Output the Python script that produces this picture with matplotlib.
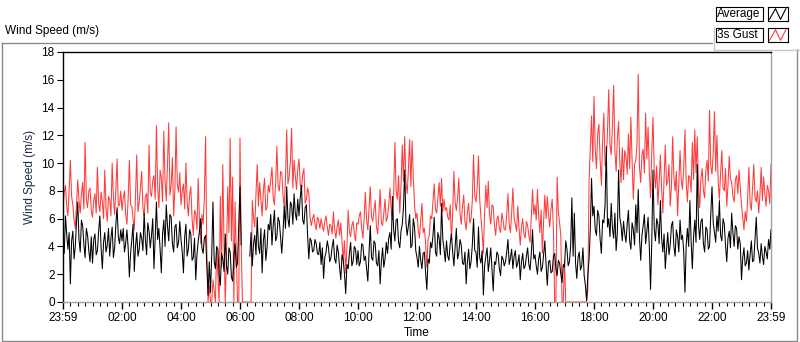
import numpy as np
import matplotlib
matplotlib.use('Agg')
import matplotlib.pyplot as plt
from matplotlib.ticker import MultipleLocator
from matplotlib.patches import Rectangle
from matplotlib.lines import Line2D

nan = np.nan

# one value every 2.5 minutes, one line per half hour (m/s)
avg = [
    4.6, 3.5, 6.2, 4.9, 3.8, 5.0, 1.3, 4.4, 5.1, 3.1, 4.0, 5.8,
    7.2, 4.5, 3.6, 5.9, 5.5, 4.1, 3.2, 5.3, 4.8, 3.7, 2.9, 4.7,
    2.8, 4.5, 4.9, 3.4, 3.7, 5.1, 6.2, 3.9, 2.4, 4.3, 5.0, 3.6,
    4.1, 5.3, 3.3, 4.6, 5.4, 3.2, 3.9, 5.6, 6.8, 4.7, 4.2, 5.2,
    4.4, 5.3, 3.6, 4.2, 5.2, 3.9, 1.8, 3.5, 4.5, 5.6, 2.2, 4.0,
    5.0, 3.3, 3.8, 5.0, 4.6, 3.7, 6.4, 4.5, 3.4, 5.7, 5.1, 3.9,
    4.8, 6.0, 2.4, 4.6, 7.2, 4.5, 5.3, 3.8, 2.1, 4.9, 5.9, 4.0,
    7.0, 5.5, 4.4, 6.3, 6.1, 4.2, 3.6, 5.4, 5.6, 3.9, 4.3, 5.8,
    4.5, 3.6, 2.1, 4.7, 5.6, 3.3, 3.8, 5.2, 4.9, 3.0, 3.2, 4.6,
    1.6, 3.4, 4.4, 5.1, 6.0, 3.9, 3.5, 4.6, 4.8, 2.7, 0.5, 2.9,
    0.7, 3.4, 7.2, 2.9, 2.4, 4.0, 3.8, 1.9, 1.2, 3.5, 3.1, 2.2,
    4.9, 2.6, 2.0, 3.9, 3.6, 1.8, 1.5, 3.3, 4.2, 2.5, 2.8, 5.6,
    8.3, 4.1, nan, nan, nan, nan, nan, nan, 3.3, 5.0, 2.6, 4.2,
    4.8, 3.4, 6.1, 4.0, 3.5, 5.3, 2.1, 4.4, 5.2, 3.0, 3.9, 5.6,
    5.2, 6.3, 4.1, 5.5, 6.6, 4.4, 4.7, 6.1, 5.8, 4.6, 3.5, 5.0,
    6.9, 5.3, 8.3, 6.0, 5.4, 7.2, 7.0, 5.6, 7.8, 6.4, 5.9, 7.4,
    6.2, 7.5, 8.4, 5.9, 5.6, 6.8, 7.0, 4.8, 3.1, 4.6, 4.4, 3.6,
    3.7, 4.5, 4.2, 3.5, 3.4, 4.3, 2.7, 3.9, 1.7, 3.2, 3.6, 4.4,
    3.9, 2.9, 3.2, 4.0, 4.5, 3.1, 2.8, 4.1, 3.6, 2.5, 1.6, 3.4,
    3.0, 2.0, 0.6, 2.7, 2.4, 3.5, 4.3, 2.6, 2.9, 4.0, 3.8, 2.7,
    3.7, 2.6, 2.9, 4.2, 4.1, 3.0, 3.3, 2.4, 1.5, 3.6, 5.5, 3.2,
    3.0, 4.4, 4.2, 2.8, 2.6, 3.7, 1.3, 2.9, 3.9, 2.5, 3.1, 4.3,
    3.5, 4.6, 5.0, 3.8, 7.6, 5.2, 4.4, 5.9, 6.0, 4.3, 3.9, 5.1,
    5.6, 6.8, 9.5, 5.7, 4.8, 5.5, 6.3, 3.9, 4.1, 6.0, 5.4, 3.7,
    3.2, 2.5, 4.0, 3.0, 2.4, 3.5, 3.6, 2.1, 0.9, 3.1, 2.8, 4.3,
    3.9, 4.8, 6.1, 3.6, 3.3, 5.0, 4.6, 3.4, 7.1, 4.5, 3.8, 2.9,
    4.4, 3.3, 3.0, 4.2, 4.9, 3.6, 2.6, 4.0, 5.3, 3.1, 3.5, 4.5,
    4.1, 2.8, 2.7, 3.6, 1.3, 2.9, 3.8, 2.4, 2.9, 4.1, 6.0, 3.7,
    3.6, 2.5, 5.4, 3.2, 2.8, 3.7, 0.5, 2.6, 3.3, 3.9, 2.2, 3.0,
    3.9, 2.3, 0.8, 2.9, 2.7, 3.6, 3.4, 2.4, 1.9, 3.3, 3.1, 2.6,
    2.9, 3.6, 4.5, 2.7, 3.2, 3.8, 2.4, 3.3, 3.7, 2.5, 2.8, 3.4,
    1.6, 2.9, 3.5, 2.4, 2.6, 3.3, 3.9, 2.7, 2.3, 3.5, 5.2, 3.1,
    3.4, 2.6, 2.0, 3.1, 3.6, 2.2, 2.5, 3.4, 4.4, 2.7, 1.2, 2.9,
    3.0, 2.1, 2.2, 3.3, 3.5, 2.4, 1.9, 3.0, 2.8, 2.0, 1.4, 2.7,
    2.5, 4.4, 3.8, 2.6, 2.9, 4.0, 7.5, 3.3, 6.4, 2.8, 1.7, 3.2,
    3.6, 2.3, 2.6, 3.9, 1.9, 1.2, 0.1, 2.0, 3.1, 5.3, 8.9, 6.2,
    6.9, 5.2, 4.8, 6.6, 6.2, 4.5, 3.5, 5.9, 5.7, 7.0, 11.2, 5.4,
    6.0, 4.7, 7.1, 5.3, 4.6, 6.4, 3.7, 5.0, 9.5, 6.1, 5.5, 4.4,
    5.8, 4.9, 4.3, 5.6, 6.6, 4.4, 3.8, 5.7, 5.2, 4.1, 7.0, 5.0,
    8.1, 4.6, 3.0, 4.8, 5.5, 6.3, 4.2, 5.1, 6.1, 4.0, 0.9, 4.3,
    9.5, 5.3, 4.4, 6.0, 5.6, 4.2, 7.3, 4.6, 3.6, 4.9, 2.4, 3.8,
    5.0, 3.4, 4.1, 5.5, 5.8, 4.0, 3.3, 5.2, 4.7, 3.6, 5.9, 4.5,
    4.8, 3.6, 0.7, 4.1, 5.3, 4.0, 7.3, 4.4, 2.4, 4.7, 5.9, 4.3,
    9.9, 5.6, 4.5, 5.8, 6.0, 4.2, 3.6, 5.4, 5.2, 3.8, 4.0, 6.3,
    8.3, 5.7, 5.0, 4.3, 6.2, 5.1, 7.3, 4.8, 4.4, 6.0, 5.6, 4.1,
    2.9, 4.6, 5.1, 3.9, 6.4, 5.0, 4.0, 5.5, 5.3, 3.8, 4.7, 4.2,
    1.6, 3.2, 3.9, 2.6, 2.8, 3.7, 2.3, 3.4, 4.4, 2.9, 3.0, 4.6,
    6.1, 3.9, 3.5, 2.8, 4.2, 3.3, 2.7, 4.0, 3.6, 3.1, 4.5, 3.8,
    5.2,
]

gust = [
    6.8, 7.9, 8.4, 6.9, 6.2, 8.1, 10.2, 7.6, 7.0, 5.9, 5.3, 7.1,
    8.8, 7.3, 6.4, 7.8, 8.6, 6.7, 11.5, 7.4, 6.8, 8.0, 8.2, 6.6,
    6.1, 7.3, 7.8, 6.4, 9.7, 7.1, 6.5, 7.9, 7.2, 6.0, 9.5, 6.8,
    5.8, 7.6, 7.4, 6.2, 10.0, 7.5, 6.3, 8.1, 10.3, 6.9, 7.0, 8.0,
    6.6, 7.5, 8.0, 6.3, 5.6, 7.4, 10.2, 7.0, 6.9, 6.0, 5.2, 7.7,
    10.6, 6.5, 7.2, 8.2, 9.4, 6.8, 6.2, 7.6, 7.8, 6.4, 11.3, 7.9,
    7.6, 8.7, 9.1, 7.4, 12.7, 8.3, 6.8, 9.5, 8.9, 7.2, 12.3, 8.8,
    7.3, 9.9, 12.9, 7.7, 8.4, 10.4, 6.2, 8.0, 12.6, 8.5, 7.9, 9.3,
    7.0, 8.0, 8.5, 6.7, 10.0, 7.2, 6.2, 7.7, 8.3, 6.0, 4.8, 6.6,
    6.4, 5.2, 8.9, 5.9, 4.2, 6.3, 5.6, 7.5, 11.9, 3.6, 0.0, 1.2,
    0.0, 0.0, 1.6, 0.8, 0.0, 3.8, 1.9, 0.0, 7.6, 2.5, 9.9, 4.1,
    0.0, 3.2, 8.3, 5.0, 11.8, 4.4, 9.0, 0.0, 7.2, 3.4, 0.0, 0.0,
    11.8, 4.0, 0.0, 0.0, 0.0, 0.0, 0.0, 0.0, 0.0, 0.0, 7.3, 6.1,
    5.4, 7.8, 9.9, 6.9, 8.6, 7.4, 6.2, 8.0, 8.9, 6.6, 6.8, 8.4,
    7.9, 8.8, 9.7, 7.5, 7.0, 8.6, 11.2, 8.3, 8.0, 9.4, 9.3, 7.7,
    6.8, 8.9, 12.4, 8.5, 9.0, 10.1, 12.5, 8.2, 10.2, 9.1, 8.1, 9.6,
    10.3, 8.5, 8.0, 9.2, 9.6, 7.1, 7.4, 8.2, 7.8, 6.1, 5.5, 6.0,
    6.3, 5.6, 5.2, 6.1, 5.9, 5.3, 6.0, 5.5, 5.1, 5.8, 6.2, 5.4,
    4.8, 5.6, 5.5, 4.9, 6.5, 5.2, 4.6, 5.4, 5.9, 4.8, 5.7, 4.3,
    3.0, 4.4, 2.1, 4.0, 6.6, 5.1, 4.7, 5.5, 5.8, 4.9, 4.4, 5.7,
    5.6, 6.2, 6.5, 5.3, 4.6, 6.0, 7.9, 5.9, 5.2, 6.7, 8.3, 6.1,
    5.8, 6.6, 7.3, 5.4, 4.9, 6.3, 8.1, 5.7, 5.5, 6.4, 7.4, 5.8,
    6.1, 7.0, 8.2, 6.6, 5.9, 7.7, 11.5, 8.0, 7.4, 9.1, 6.4, 8.4,
    11.3, 8.7, 11.9, 8.6, 7.8, 9.5, 11.7, 8.3, 11.6, 8.9, 7.0, 6.0,
    6.4, 5.2, 4.6, 5.8, 7.1, 5.0, 5.3, 4.2, 2.5, 4.5, 4.8, 6.2,
    6.0, 7.3, 8.5, 6.7, 6.4, 7.5, 8.6, 6.9, 8.9, 6.5, 7.4, 6.6,
    6.8, 6.1, 5.9, 7.0, 4.5, 6.3, 9.4, 7.2, 6.6, 7.5, 8.9, 6.4,
    5.6, 6.9, 7.7, 5.8, 5.2, 6.5, 7.1, 5.7, 6.0, 7.3, 10.6, 7.6,
    7.2, 8.3, 10.5, 7.4, 6.1, 5.0, 3.5, 6.4, 8.4, 6.8, 8.7, 6.3,
    5.6, 7.0, 6.9, 5.5, 4.8, 6.0, 6.2, 5.3, 5.0, 6.4, 5.9, 5.2,
    5.2, 6.3, 7.8, 5.6, 5.0, 6.4, 8.2, 6.1, 5.6, 5.1, 6.9, 5.3,
    4.1, 5.4, 6.0, 4.9, 4.6, 5.8, 5.5, 4.8, 4.3, 6.1, 8.1, 6.3,
    7.0, 5.9, 8.1, 6.2, 5.0, 6.6, 3.5, 5.8, 7.7, 6.0, 7.6, 6.3,
    5.4, 6.7, 7.4, 5.2, 0.0, 0.0, 9.0, 6.5, 5.7, 4.8, 0.0, 0.0,
    3.0, 0.0, 0.0, 0.0, 0.0, 0.0, 0.0, 0.0, 0.0, 0.0, 0.0, 0.0,
    0.0, 0.0, 0.0, 0.0, 0.0, 0.0, 0.0, 0.9, 8.8, 11.2, 13.4, 10.1,
    14.8, 11.0, 9.6, 12.1, 12.8, 10.2, 8.4, 11.6, 13.6, 9.8, 10.1, 12.4,
    15.3, 11.3, 10.6, 12.7, 15.6, 10.9, 9.4, 11.8, 13.0, 10.0, 8.6, 11.1,
    8.8, 10.9, 10.5, 9.2, 12.1, 9.6, 13.3, 10.1, 7.4, 9.9, 10.2, 11.5,
    16.4, 9.7, 8.6, 10.6, 11.0, 9.3, 13.6, 10.3, 12.6, 9.4, 7.5, 10.8,
    13.3, 9.5, 8.2, 9.8, 7.0, 8.6, 10.6, 8.1, 6.4, 8.9, 11.3, 8.4,
    8.7, 9.9, 6.9, 8.3, 11.9, 9.0, 8.0, 9.4, 6.2, 8.5, 10.9, 8.8,
    8.1, 9.7, 12.4, 8.6, 7.2, 9.1, 9.0, 7.9, 11.5, 8.8, 12.4, 9.3,
    11.9, 8.4, 6.8, 8.9, 9.6, 8.0, 7.5, 9.5, 10.2, 8.7, 13.8, 9.8,
    9.2, 10.8, 13.7, 9.4, 12.0, 8.7, 7.4, 9.3, 10.9, 8.2, 8.0, 9.6,
    6.9, 8.4, 10.5, 8.9, 8.6, 7.6, 7.2, 8.8, 9.1, 7.8, 9.5, 8.3,
    7.0, 6.1, 5.2, 6.5, 5.8, 7.4, 9.7, 7.1, 6.6, 8.2, 9.9, 7.5,
    7.2, 8.0, 6.4, 7.7, 9.7, 7.3, 9.0, 7.8, 6.9, 8.4, 8.0, 7.1,
    9.9,
]

t_hours = np.arange(len(avg)) / 24.0
tick_pos = list(range(0, 25, 2))
tick_lab = ['23:59', '02:00', '04:00', '06:00', '08:00', '10:00', '12:00',
            '14:00', '16:00', '18:00', '20:00', '22:00', '23:59']
series_names = ['Average', '3s Gust']
series_colors = ['black', '#ff3b3b']

plt.rcParams['font.family'] = ['Liberation Sans', 'DejaVu Sans']
plt.rcParams['font.size'] = 8.5

W, H = 800, 342
fig = plt.figure(figsize=(W / 100, H / 100), dpi=100)

def fx(x):
    return x / W

def fy(y):
    return 1 - y / H

# outer frame of the graph panel
frame = [(1.5, 42.5), (797, 42.5), (797, 340.5), (1.5, 340.5), (1.5, 42.5)]
fig.add_artist(Line2D([fx(p[0]) for p in frame], [fy(p[1]) for p in frame],
                      color='#8a8a8a', lw=1.0, transform=fig.transFigure))

ax = fig.add_axes([fx(63), fy(302), (771 - 63) / W, (302 - 52) / H])
ax.plot(t_hours, gust, color=series_colors[1], lw=0.75, zorder=2)
ax.plot(t_hours, avg, color=series_colors[0], lw=0.75, zorder=3)

ax.set_xlim(0, 24)
ax.set_ylim(0, 18)
ax.set_xticks(tick_pos)
ax.set_xticklabels(tick_lab)
ax.xaxis.set_minor_locator(MultipleLocator(0.25))
ax.set_yticks(range(0, 19, 2))
ax.tick_params(axis='x', which='major', length=5, width=1, pad=2)
ax.tick_params(axis='x', which='minor', length=3, width=0.8)
ax.tick_params(axis='y', which='major', length=4, width=0.8, pad=2)
ax.set_xlabel('Time', labelpad=2)
ax.set_ylabel('Wind Speed (m/s)', labelpad=4, color='#1e2a44')

ax.spines['left'].set_color('black')
ax.spines['top'].set_color('black')
ax.spines['right'].set_color('#a0a0a0')
ax.spines['bottom'].set_color('#a0a0a0')
for s in ax.spines.values():
    s.set_linewidth(1)

fig.text(fx(5), fy(31), 'Wind Speed (m/s)', ha='left', va='center')

# legend panel, LabVIEW style
fig.add_artist(Rectangle((fx(713), fy(49)), fx(87), 49 / H, transform=fig.transFigure,
                         facecolor='white', edgecolor='none', zorder=5))
fig.add_artist(Line2D([fx(713.5), fx(713.5), fx(800)], [fy(27), fy(49.5), fy(49.5)],
                      color='#c8c8c8', lw=1, transform=fig.transFigure, zorder=6))
for i, (name, col) in enumerate(zip(series_names, series_colors)):
    top = 7 + 21 * i
    fig.add_artist(Rectangle((fx(715.5), fy(top + 14)), fx(47), 14 / H,
                             transform=fig.transFigure, facecolor='white',
                             edgecolor='black', lw=0.8, zorder=7))
    fig.text(fx(717), fy(top + 7.5), name, ha='left', va='center', zorder=8)
    icon = fig.add_axes([fx(767.5), fy(top + 14), fx(20), 14 / H], zorder=9)
    icon.plot([0.1, 0.4, 0.65, 0.92], [0.12, 0.88, 0.12, 0.88], color=col, lw=0.8)
    icon.set_xlim(0, 1)
    icon.set_ylim(0, 1)
    icon.set_xticks([])
    icon.set_yticks([])
    for s in icon.spines.values():
        s.set_linewidth(0.8)

fig.savefig('out.png', dpi=100)
